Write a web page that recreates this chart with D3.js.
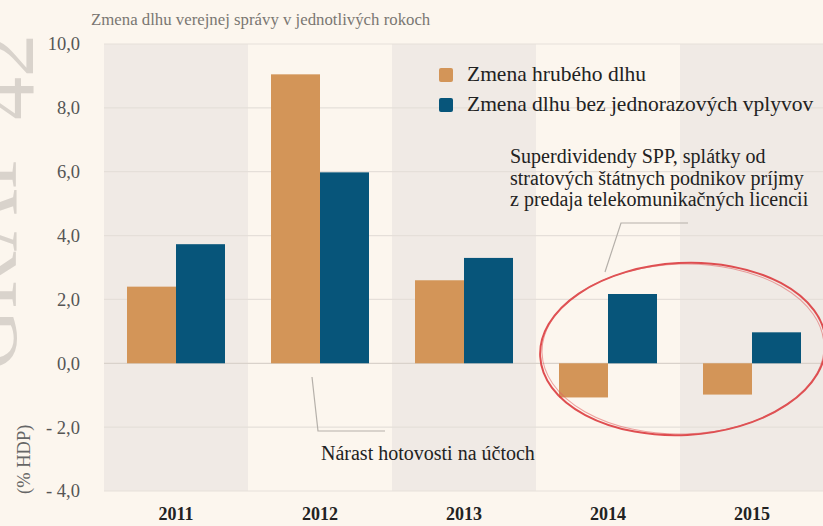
<!DOCTYPE html>
<html>
<head>
<meta charset="utf-8">
<script src="https://cdn.jsdelivr.net/npm/d3@7"></script>
<style>
  html, body { margin: 0; padding: 0; background: #fcf6ee; }
  svg { display: block; }
  text { font-family: "Liberation Serif", "DejaVu Serif", serif; }
</style>
</head>
<body>
<div id="chart"></div>
<script>
// Yearly change of general government debt (% of GDP)
const years = ["2011", "2012", "2013", "2014", "2015"];
const grossDebt = [2.4, 9.05, 2.6, -1.07, -0.98];
const debtExOneOffs = [3.73, 5.98, 3.3, 2.17, 0.97];
const seriesNames = ["Zmena hrubého dlhu", "Zmena dlhu bez jednorazových vplyvov"];
const yTicks = [10, 8, 6, 4, 2, 0, -2, -4];
const tickLabels = ["10,0", "8,0", "6,0", "4,0", "2,0", "0,0", "- 2,0", "- 4,0"];

const W = 823, H = 526;
const colors = ["#d39558", "#07557a"];

const svg = d3.select("#chart").append("svg")
  .attr("width", W).attr("height", H);

svg.append("rect").attr("width", W).attr("height", H).attr("fill", "#fcf6ee");

// Large faded watermark running up the left edge, mostly outside the page
const wm = svg.append("text")
  .attr("transform", "translate(16,371) rotate(-90)")
  .attr("font-size", 86)
  .attr("fill", "#d9d3cc");
wm.append("tspan").text("GRAF ");
wm.append("tspan").attr("dy", 17).text("42");

const x = d3.scaleBand().domain(years).range([104, 824]).padding(0);
const xSub = d3.scaleBand().domain([0, 1]).range([23, x.bandwidth() - 23]).padding(0);
const y = d3.scaleLinear().domain([-4, 10]).range([491, 44]);

// Alternating column bands
svg.append("g").selectAll("rect")
  .data(years)
  .join("rect")
  .attr("x", d => x(d))
  .attr("y", y(10))
  .attr("width", x.bandwidth())
  .attr("height", y(-4) - y(10))
  .attr("fill", (d, i) => i % 2 === 0 ? "#f0eae5" : "#fcf6ee");

// Horizontal grid lines
svg.append("g").selectAll("line")
  .data(yTicks)
  .join("line")
  .attr("x1", 104).attr("x2", W)
  .attr("y1", d => y(d)).attr("y2", d => y(d))
  .attr("stroke", d => d === 0 ? "#d9d2cb" : "#e5dfd9")
  .attr("stroke-width", 1.2);

// Y axis labels
const yAxis = d3.axisLeft(y).tickValues(yTicks)
  .tickFormat((d, i) => tickLabels[i]).tickSize(0).tickPadding(0);
const yg = svg.append("g").attr("transform", "translate(80,0)").call(yAxis);
yg.select(".domain").remove();
yg.selectAll("text")
  .attr("font-family", "Liberation Serif, serif")
  .attr("font-size", 18.5)
  .attr("fill", "#555");

// Bars
const barGroups = svg.append("g").selectAll("g")
  .data(years)
  .join("g")
  .attr("transform", d => `translate(${x(d)},0)`);

barGroups.selectAll("rect")
  .data((d, i) => [grossDebt[i], debtExOneOffs[i]])
  .join("rect")
  .attr("x", (v, j) => xSub(j))
  .attr("width", xSub.bandwidth())
  .attr("y", v => y(Math.max(0, v)))
  .attr("height", v => Math.abs(y(v) - y(0)))
  .attr("fill", (v, j) => colors[j]);

// X axis labels
const xAxis = d3.axisBottom(x).tickSize(0).tickPadding(0);
const xg = svg.append("g").attr("transform", "translate(0,507)").call(xAxis);
xg.select(".domain").remove();
xg.selectAll("text")
  .attr("font-family", "Liberation Serif, serif")
  .attr("font-size", 18)
  .attr("font-weight", "bold")
  .attr("fill", "#222");

// Title
svg.append("text")
  .attr("x", 91).attr("y", 25)
  .attr("font-size", 16.8)
  .attr("fill", "#7a7672")
  .text("Zmena dlhu verejnej správy v jednotlivých rokoch");

// Unit label
svg.append("text")
  .attr("transform", "translate(30,494) rotate(-90)")
  .attr("font-size", 18.5)
  .attr("fill", "#666")
  .text("(% HDP)");

// Legend
const legend = svg.append("g").selectAll("g")
  .data(seriesNames)
  .join("g")
  .attr("transform", (d, i) => `translate(439,${68 + i * 30})`);
legend.append("rect")
  .attr("width", 14).attr("height", 14).attr("rx", 2)
  .attr("fill", (d, i) => colors[i]);
legend.append("text")
  .attr("x", 28).attr("y", 13)
  .attr("font-size", 21.5)
  .attr("fill", "#222")
  .text(d => d);

// Annotations
const note1 = ["Superdividendy SPP, splátky od",
               "stratových štátnych podnikov príjmy",
               "z predaja telekomunikačných licencii"];
svg.append("g").selectAll("text")
  .data(note1)
  .join("text")
  .attr("x", 510).attr("y", (d, i) => 163 + i * 21.5)
  .attr("font-size", 20)
  .attr("fill", "#222")
  .text(d => d);

svg.append("polyline")
  .attr("points", "605,272 621,223 688,223")
  .attr("fill", "none").attr("stroke", "#b5b0aa").attr("stroke-width", 1.2);

svg.append("polyline")
  .attr("points", "312,377 318,431 385,431")
  .attr("fill", "none").attr("stroke", "#b5b0aa").attr("stroke-width", 1.2);

svg.append("text")
  .attr("x", 321).attr("y", 460)
  .attr("font-size", 20)
  .attr("fill", "#222")
  .text("Nárast hotovosti na účtoch");

// Hand-drawn red ellipse around 2014–2015
const ell = svg.append("g").attr("transform", "translate(683,349) rotate(-3)");
ell.append("ellipse")
  .attr("rx", 143).attr("ry", 86)
  .attr("fill", "none").attr("stroke", "#dc3c3f").attr("stroke-width", 2)
  .attr("opacity", 0.9);
ell.append("ellipse")
  .attr("rx", 141).attr("ry", 85)
  .attr("transform", "rotate(1.5)")
  .attr("fill", "none").attr("stroke", "#e0595b").attr("stroke-width", 1)
  .attr("opacity", 0.55);
</script>
</body>
</html>
